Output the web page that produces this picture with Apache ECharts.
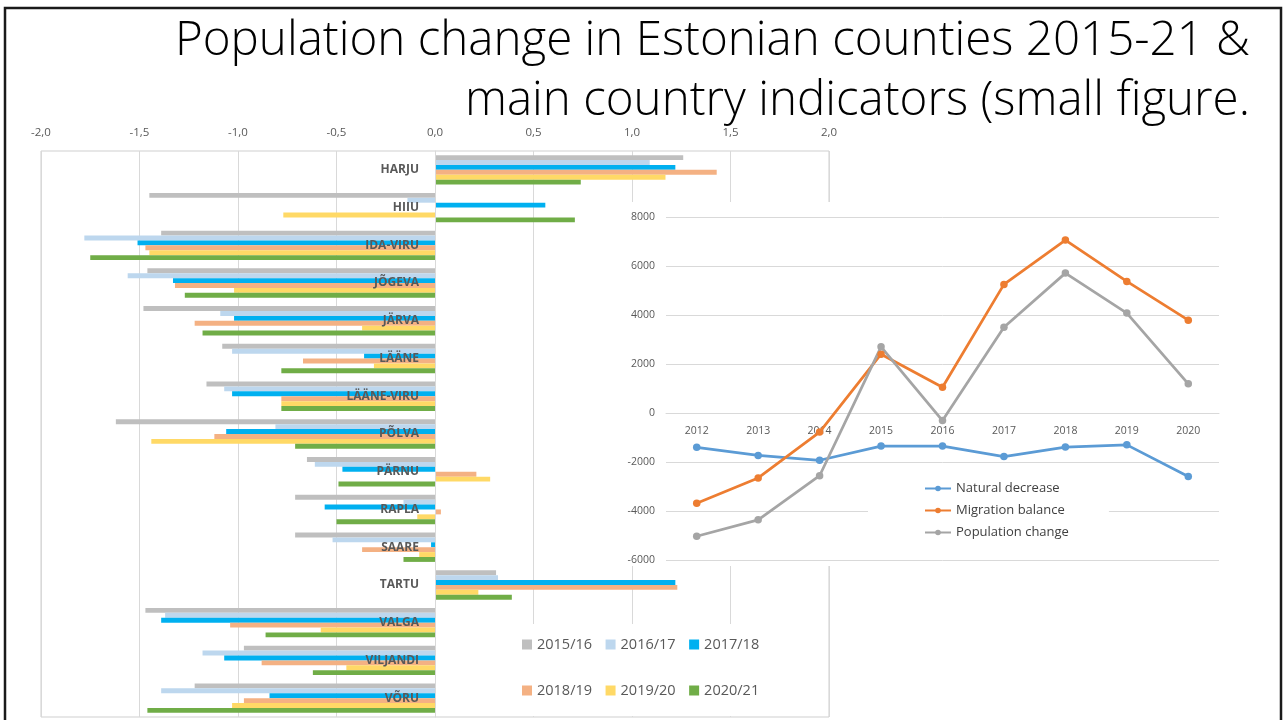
<!DOCTYPE html>
<html>
<head>
<meta charset="utf-8">
<script src="https://cdn.jsdelivr.net/npm/echarts@6/dist/echarts.min.js"></script>
<style>
  html, body { margin: 0; padding: 0; background: #fff; }
  #main { width: 1285px; height: 720px; }
</style>
</head>
<body>
<div id="main"></div>
<script>
// counties, top to bottom
var counties = ['HARJU', 'HIIU', 'IDA-VIRU', 'JÕGEVA', 'JÄRVA', 'LÄÄNE', 'LÄÄNE-VIRU', 'PÕLVA',
  'PÄRNU', 'RAPLA', 'SAARE', 'TARTU', 'VALGA', 'VILJANDI', 'VÕRU'];
var periods = ['2015/16', '2016/17', '2017/18', '2018/19', '2019/20', '2020/21'];

// population change, %
var v1516 = [1.26, -1.45, -1.39, -1.46, -1.48, -1.08, -1.16, -1.62, -0.65, -0.71, -0.71, 0.31, -1.47, -0.97, -1.22];
var v1617 = [1.09, -0.14, -1.78, -1.56, -1.09, -1.03, -1.07, -0.81, -0.61, -0.16, -0.52, 0.32, -1.37, -1.18, -1.39];
var v1718 = [1.22, 0.56, -1.51, -1.33, -1.02, -0.36, -1.03, -1.06, -0.47, -0.56, -0.02, 1.22, -1.39, -1.07, -0.84];
var v1819 = [1.43, 0, -1.47, -1.32, -1.22, -0.67, -0.78, -1.12, 0.21, 0.03, -0.37, 1.23, -1.04, -0.88, -0.97];
var v1920 = [1.17, -0.77, -1.45, -1.02, -0.37, -0.31, -0.78, -1.44, 0.28, -0.09, -0.08, 0.22, -0.58, -0.45, -1.03];
var v2021 = [0.74, 0.71, -1.75, -1.27, -1.18, -0.78, -0.78, -0.71, -0.49, -0.50, -0.16, 0.39, -0.86, -0.62, -1.46];
var barColors = ['#BFBFBF', '#BDD7EE', '#00B0F0', '#F4B183', '#FFD966', '#70AD47'];

// small figure: country indicators
var years = ['2012', '2013', '2014', '2015', '2016', '2017', '2018', '2019', '2020'];
var naturalDecrease = [-1400, -1730, -1930, -1350, -1350, -1780, -1390, -1300, -2590];
var migrationBalance = [-3680, -2650, -780, 2400, 1050, 5250, 7060, 5370, 3790];
var populationChange = [-5030, -4360, -2560, 2700, -310, 3500, 5710, 4080, 1190];

var txt = '#595959';
var chart = echarts.init(document.getElementById('main'));

var barValues = [v1516, v1617, v1718, v1819, v1920, v2021];
var barSeries = barValues.map(function (d, i) {
  return {
    name: periods[i],
    type: 'bar',
    xAxisIndex: 0, yAxisIndex: 0,
    data: d,
    barWidth: 4.9,
    barGap: '0%',
    itemStyle: { color: barColors[i] }
  };
});

function lineSeries(name, data, color) {
  return {
    name: name,
    type: 'line',
    xAxisIndex: 1, yAxisIndex: 1,
    data: data,
    z: 4,
    symbol: 'circle',
    symbolSize: 7.5,
    lineStyle: { width: 2.75, color: color },
    itemStyle: { color: color }
  };
}

// bar grid: x from -2 to 2 over 788px, zero in the middle
var barGridLeft = 41, barGridWidth = 788;
// line grid: -6000..8000 over 343px
var lineGridTop = 217, lineGridHeight = 343;

var option = {
  backgroundColor: '#fff',
  animation: false,
  textStyle: { fontFamily: 'Open Sans' },
  graphic: [
    { type: 'rect', z: 10, shape: { x: 5, y: 8, width: 1276, height: 730 },
      style: { fill: 'none', stroke: '#1a1a1a', lineWidth: 2.5 } },
    // white boxes behind the small figure and the legend
    { type: 'rect', z: 1, shape: { x: 612, y: 202, width: 628, height: 364 }, style: { fill: '#fff' } },
    { type: 'rect', z: 1, shape: { x: 502, y: 624, width: 324, height: 92 }, style: { fill: '#fff' } },
    { type: 'text', z: 10, style: { text: 'Population change in Estonian counties 2015-21 &', x: 1250, y: 41,
      align: 'right', verticalAlign: 'middle', font: '300 47.5px "Open Sans"', fill: '#000' } },
    { type: 'text', z: 10, style: { text: 'main country indicators (small figure.', x: 1250, y: 101,
      align: 'right', verticalAlign: 'middle', font: '300 47.5px "Open Sans"', fill: '#000' } }
  ],
  legend: [
    { data: periods.slice(0, 3), left: 522, top: 637, itemWidth: 10, itemHeight: 10, itemGap: 13.5,
      icon: 'rect', padding: 0, textStyle: { fontSize: 14.5, color: txt, width: 70 } },
    { data: periods.slice(3), left: 522, top: 683, itemWidth: 10, itemHeight: 10, itemGap: 13.5,
      icon: 'rect', padding: 0, textStyle: { fontSize: 14.5, color: txt, width: 70 } },
    { data: ['Natural decrease', 'Migration balance', 'Population change'], orient: 'vertical',
      left: 868, top: 472, padding: [10, 40, 10, 56], itemGap: 9, itemWidth: 26, itemHeight: 7,
      backgroundColor: '#fff', textStyle: { fontSize: 13, color: '#404040' } }
  ],
  grid: [
    { left: barGridLeft, top: 151, width: barGridWidth, height: 566, outerBoundsMode: 'none',
      show: true, borderColor: '#cfcfcf', borderWidth: 1, backgroundColor: 'transparent' },
    { left: 666, top: lineGridTop, width: 553, height: lineGridHeight, outerBoundsMode: 'none' }
  ],
  xAxis: [
    {
      type: 'value', gridIndex: 0, position: 'top', min: -2, max: 2, interval: 0.5,
      axisLine: { show: false }, axisTick: { show: false },
      axisLabel: { color: txt, fontSize: 11.5, margin: 12,
        formatter: function (v) { return v.toFixed(1).replace('.', ','); } },
      splitLine: { lineStyle: { color: '#d9d9d9' } }
    },
    {
      type: 'category', gridIndex: 1, data: years, z: 2, position: 'bottom',
      offset: -lineGridHeight * 6000 / 14000,
      axisLine: { onZero: false, lineStyle: { color: '#d9d9d9' } },
      axisTick: { show: false },
      axisLabel: { color: txt, fontSize: 10.5, margin: 13 }
    }
  ],
  yAxis: [
    {
      type: 'category', gridIndex: 0, data: counties, inverse: true, z: 5, position: 'left',
      offset: -barGridWidth / 2,
      axisLine: { onZero: false, lineStyle: { color: '#d9d9d9' } },
      axisTick: { show: false },
      axisLabel: { color: txt, fontSize: 12, fontWeight: 'bold', margin: 16 }
    },
    {
      type: 'value', gridIndex: 1, min: -6000, max: 8000, interval: 2000, z: 2,
      axisLine: { show: false }, axisTick: { show: false },
      axisLabel: { color: txt, fontSize: 10.5, margin: 11, formatter: function (v) { return String(v); } },
      splitLine: { lineStyle: { color: '#d9d9d9' } }
    }
  ],
  series: barSeries.concat([
    lineSeries('Natural decrease', naturalDecrease, '#5B9BD5'),
    lineSeries('Migration balance', migrationBalance, '#ED7D31'),
    lineSeries('Population change', populationChange, '#A5A5A5')
  ])
};

chart.setOption(option);
</script>
</body>
</html>
